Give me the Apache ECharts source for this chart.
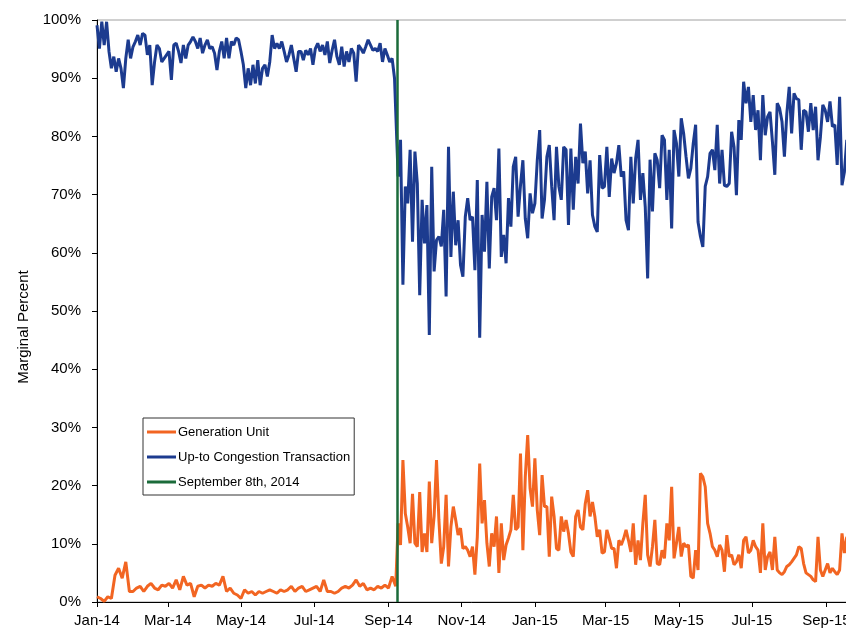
<!DOCTYPE html>
<html>
<head>
<meta charset="utf-8">
<script src="https://cdn.jsdelivr.net/npm/echarts@6/dist/echarts.min.js"></script>
<style>
  html, body { margin: 0; padding: 0; background: #fff; overflow: hidden; }
  #chart { width: 846px; height: 633px; }
</style>
</head>
<body>
<div id="chart"></div>
<script>
// x axis runs day by day from 1 Jan 2014 to 19 Sep 2015
const firstDay = '2014-01-01'
const dayCount = 627
const monthNames = ['Jan', 'Feb', 'Mar', 'Apr', 'May', 'Jun', 'Jul', 'Aug', 'Sep', 'Oct', 'Nov', 'Dec']
const changeDate = '2014-09-08'
const seriesNames = ['Generation Unit', 'Up-to Congestion Transaction', 'September 8th, 2014']

// before the change the readings start on 1 Jan 2014
const congestionStepBefore = 2
const generationStepBefore = 3
// after the change: one reading every 2 days from 9 Sep 2014 (day 251)
const startAfter = 251
const stepAfter = 2

const congestionBefore = [
  99.1, 95.1, 99.7, 95.7, 99.7, 94.6, 91.7, 93.7, 91.1, 93.4,
  91.7, 88.3, 93.4, 96.6, 93.4, 95.4, 96.3, 97.4, 95.7, 97.7,
  97.4, 94.0, 95.7, 88.8, 92.8, 95.7, 95.1, 92.8, 93.4, 94.0,
  94.6, 89.7, 95.7, 96.0, 94.6, 92.6, 95.7, 93.4, 95.7, 96.3,
  97.1, 96.3, 95.1, 96.9, 94.3, 95.7, 96.6, 95.1, 95.4, 94.3,
  91.4, 94.6, 96.3, 93.4, 96.9, 93.4, 96.3, 95.7, 96.9, 96.6,
  94.6, 92.3, 88.3, 91.7, 88.8, 92.3, 89.1, 93.1, 88.8, 91.7,
  92.3, 90.3, 92.8, 97.4, 95.1, 96.0, 95.1, 96.3, 94.6, 92.8,
  94.0, 95.7, 93.4, 91.1, 94.6, 94.6, 93.1, 94.8, 94.0, 95.1,
  92.3, 95.1, 96.0, 94.6, 95.7, 94.0, 96.3, 92.6, 94.8, 96.6,
  93.7, 92.3, 95.4, 92.0, 94.6, 92.8, 95.1, 94.3, 89.4, 95.7,
  95.1, 94.3, 95.4, 96.6, 95.7, 94.8, 95.1, 94.6, 96.0, 92.8,
  95.1, 94.0, 92.8, 93.4, 90.0
]
const congestionAfter = [
  73.1, 79.4, 54.5, 71.4, 68.5, 77.7, 61.9, 77.4, 71.9, 52.7,
  69.1, 61.6, 68.2, 45.9, 74.8, 56.8, 62.2, 62.8, 61.1, 67.4,
  52.5, 78.2, 59.3, 70.5, 61.3, 65.6, 57.9, 55.9, 66.2, 69.4,
  65.6, 66.2, 57.0, 72.5, 45.4, 66.5, 60.2, 72.2, 57.3, 69.6,
  71.1, 65.6, 77.9, 59.3, 63.1, 58.2, 69.4, 64.5, 74.8, 76.5,
  66.2, 71.6, 75.9, 65.9, 62.5, 70.2, 66.8, 68.5, 75.9, 81.1,
  65.9, 69.1, 76.5, 78.5, 71.4, 65.6, 78.2, 71.4, 69.1, 78.2,
  77.7, 64.8, 77.9, 67.4, 76.5, 71.9, 82.2, 75.4, 77.4, 70.2,
  75.9, 66.5, 64.5, 63.6, 76.8, 71.1, 71.4, 78.2, 69.6, 76.2,
  73.7, 75.4, 78.5, 73.1, 74.0, 65.6, 63.9, 76.5, 68.5, 76.2,
  79.4, 69.1, 73.7, 67.9, 55.6, 76.0, 67.1, 77.1, 75.9, 71.1,
  80.2, 79.4, 69.1, 77.7, 64.2, 81.1, 78.8, 73.1, 83.1, 80.5,
  76.5, 72.8, 74.5, 78.8, 82.0, 65.3, 62.8, 61.0, 71.4, 73.1,
  77.1, 77.7, 74.2, 82.0, 71.9, 77.7, 71.6, 71.4, 71.9, 80.8,
  78.2, 69.9, 82.8, 79.4, 89.4, 85.7, 88.5, 82.5, 87.1, 81.1,
  84.5, 75.9, 87.1, 80.2, 83.4, 84.2, 79.1, 73.4, 85.7, 84.8,
  82.5, 76.5, 83.9, 88.5, 80.5, 87.4, 86.5, 86.3, 77.7, 84.5,
  84.2, 80.8, 85.7, 81.1, 85.1, 75.9, 79.9, 85.4, 84.5, 82.5,
  86.0, 81.7, 82.0, 75.1, 86.8, 71.6, 73.9, 79.4
]
const generationBefore = [
  0.9, 0.6, 0.1, 0.9, 0.6, 4.6, 5.8, 4.1, 6.9, 1.8,
  1.8, 2.4, 2.7, 1.8, 2.7, 3.2, 2.4, 2.1, 2.9, 2.7,
  3.2, 2.4, 3.8, 2.1, 4.4, 2.9, 3.2, 0.9, 2.7, 2.9,
  2.4, 2.9, 2.7, 3.2, 2.9, 4.4, 1.8, 2.4, 1.5, 1.2,
  0.6, 2.1, 1.5, 1.8, 1.2, 1.8, 1.5, 1.8, 2.1, 1.8,
  1.5, 2.1, 1.8, 2.1, 2.7, 1.8, 2.4, 2.7, 1.8, 2.1,
  2.4, 2.7, 1.8, 3.8, 1.8, 1.8, 1.5, 1.8, 2.4, 2.7,
  2.4, 2.9, 3.8, 2.7, 3.2, 2.1, 2.4, 2.1, 2.7, 2.4,
  2.9, 2.4, 4.4, 2.7
]
const generationAfter = [
  13.5, 9.8, 24.4, 15.2, 12.9, 10.1, 18.6, 10.1, 9.5, 18.9,
  8.6, 11.8, 8.6, 20.7, 10.1, 14.7, 24.4, 14.1, 6.6, 9.5,
  18.4, 6.1, 12.9, 16.4, 14.1, 11.5, 12.7, 9.2, 9.5, 8.9,
  7.8, 9.5, 4.7, 11.2, 23.8, 13.5, 17.5, 10.1, 6.1, 11.8,
  9.5, 14.7, 5.0, 13.5, 7.2, 9.8, 11.0, 12.4, 18.4, 12.4,
  12.9, 25.5, 8.9, 21.5, 28.7, 19.5, 16.4, 24.7, 15.8, 11.5,
  21.8, 16.4, 16.4, 7.8, 18.1, 14.7, 9.2, 8.9, 14.7, 12.1,
  14.1, 11.8, 8.6, 7.8, 14.7, 15.8, 12.9, 12.4, 16.9, 19.2,
  14.7, 17.2, 14.7, 11.2, 12.4, 8.4, 8.6, 12.4, 10.9, 9.2,
  9.2, 5.8, 10.6, 9.8, 10.9, 12.4, 10.6, 8.6, 13.5, 6.4,
  10.6, 7.2, 13.5, 18.4, 8.1, 6.1, 9.5, 14.1, 6.6, 6.4,
  8.9, 7.5, 13.5, 10.6, 19.8, 7.5, 10.1, 12.9, 7.8, 10.1,
  9.5, 9.8, 4.4, 4.1, 8.9, 5.5, 22.1, 21.5, 19.8, 13.5,
  11.8, 9.5, 8.9, 7.8, 9.8, 8.9, 5.2, 11.5, 7.8, 8.1,
  6.4, 6.9, 8.1, 5.8, 10.6, 11.2, 8.4, 8.9, 10.6, 9.5,
  8.9, 5.0, 13.5, 5.5, 7.8, 8.6, 5.5, 11.2, 5.5, 5.0,
  4.7, 5.2, 6.1, 6.4, 6.9, 7.5, 8.1, 9.5, 9.2, 6.6,
  5.0, 4.7, 4.4, 3.8, 3.5, 11.2, 5.5, 4.4, 5.5, 6.6,
  5.0, 5.8, 5.2, 4.7, 5.5, 11.8, 8.4, 11.2
]

// daily category labels
const days = []
const d0 = new Date(firstDay + 'T00:00:00Z')
for (let i = 0; i < dayCount; i++) {
  days.push(new Date(d0.getTime() + i * 86400000).toISOString().slice(0, 10))
}

// put readings on their days, other days stay empty
function toDaily(before, stepBefore, after) {
  const arr = new Array(dayCount).fill(null)
  before.forEach((v, k) => { arr[k * stepBefore] = v })
  after.forEach((v, k) => { arr[startAfter + k * stepAfter] = v })
  return arr
}

// label / tick on the 1st of Jan, Mar, May ...
function isTickDay(index, value) {
  return value.slice(8) === '01' && Number(value.slice(5, 7)) % 2 === 1
}

const chart = echarts.init(document.getElementById('chart'))
const font = 'Liberation Sans, Arial, sans-serif'

chart.setOption({
  animation: false,
  backgroundColor: '#fff',
  textStyle: { fontFamily: font },
  grid: {
    left: 97,
    top: 20,
    right: -2,
    bottom: 31,
    outerBoundsMode: 'none',
    containLabel: false,
    show: true,
    borderColor: '#a0a0a0',
    borderWidth: 1
  },
  legend: {
    data: seriesNames,
    orient: 'vertical',
    left: 143,
    top: 418,
    padding: [7, 4, 6, 4],
    itemGap: 11,
    icon: 'rect',
    itemWidth: 29,
    itemHeight: 3,
    borderColor: '#333',
    borderWidth: 1,
    selectedMode: false,
    textStyle: { fontFamily: font, fontSize: 13, color: '#000', lineHeight: 14, padding: [0, 0, 0, -3] }
  },
  xAxis: {
    type: 'category',
    data: days,
    boundaryGap: false,
    axisLine: { lineStyle: { color: '#000', width: 1 } },
    axisTick: { inside: false, length: 5, interval: isTickDay, lineStyle: { color: '#000' } },
    axisLabel: {
      interval: isTickDay,
      margin: 11,
      fontSize: 15,
      color: '#000',
      fontFamily: font,
      formatter: function (value) {
        return monthNames[Number(value.slice(5, 7)) - 1] + '-' + value.slice(2, 4)
      }
    },
    splitLine: { show: false }
  },
  yAxis: {
    type: 'value',
    min: 0,
    max: 100,
    interval: 10,
    name: 'Marginal Percent',
    nameLocation: 'middle',
    nameGap: 58,
    nameTextStyle: { fontSize: 15, color: '#000', fontFamily: font, padding: [0, 32, 0, 0] },
    axisLine: { show: true, lineStyle: { color: '#000', width: 1 } },
    axisTick: { show: true, length: 5, lineStyle: { color: '#000' } },
    axisLabel: { formatter: '{value}%', fontSize: 15, color: '#000', margin: 16, fontFamily: font },
    splitLine: { show: false }
  },
  series: [
    {
      name: seriesNames[0],
      type: 'line',
      data: toDaily(generationBefore, generationStepBefore, generationAfter),
      connectNulls: true,
      symbol: 'none',
      color: '#f26522',
      lineStyle: { width: 3 }
    },
    {
      name: seriesNames[1],
      type: 'line',
      data: toDaily(congestionBefore, congestionStepBefore, congestionAfter),
      connectNulls: true,
      symbol: 'none',
      color: '#1c3b8f',
      lineStyle: { width: 3 }
    },
    {
      name: seriesNames[2],
      type: 'line',
      data: [],
      symbol: 'none',
      color: '#1b6b3a',
      lineStyle: { width: 2.5 },
      z: 5,
      markLine: {
        silent: true,
        symbol: ['none', 'none'],
        label: { show: false },
        lineStyle: { color: '#1b6b3a', width: 2.5, type: 'solid' },
        data: [{ xAxis: changeDate }]
      }
    }
  ]
})
</script>
</body>
</html>
